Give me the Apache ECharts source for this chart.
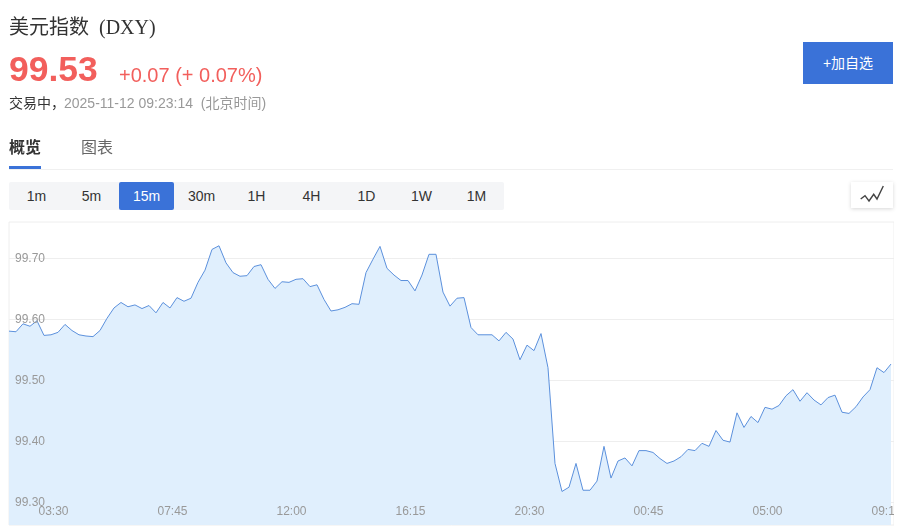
<!DOCTYPE html>
<html>
<head>
<meta charset="utf-8">
<title>美元指数 (DXY)</title>
<script src="https://cdn.jsdelivr.net/npm/echarts@6/dist/echarts.min.js"></script>
<style>
  html, body { margin: 0; padding: 0; background: #fff; overflow: hidden; }
  body { width: 898px; height: 529px; position: relative; font-family: "Liberation Sans", "Noto Sans CJK SC", sans-serif; }
  .abs { position: absolute; white-space: pre; }
  #title { left: 9px; top: 13px; font-size: 20px; line-height: 28px; color: #333; font-family: "Liberation Serif", "Noto Sans CJK SC", serif; }
  #title span { margin-left: 10px; font-size: 20px; }
  #price { left: 9px; top: 48px; font-size: 35.5px; line-height: 42px; font-weight: bold; color: #f25f5c; }
  #change { left: 119px; top: 62px; font-size: 20px; line-height: 26px; color: #f25f5c; }
  #status { left: 9px; top: 94px; font-size: 14px; line-height: 18px; color: #333; }
  #status span { color: #999; margin-left: -1px; }
  #tab1 { left: 9px; top: 137px; font-size: 16px; line-height: 22px; font-weight: bold; color: #333; }
  #tab2 { left: 81px; top: 137px; font-size: 16px; line-height: 22px; color: #666; }
  #tabbar { left: 9px; top: 166px; width: 32px; height: 3px; background: #3a72d8; }
  #tabline { left: 9px; top: 169px; width: 884px; height: 1px; background: #f0f0f0; }
  #add { left: 803px; top: 42px; width: 90px; height: 42px; line-height: 42px; text-align: center; background: #3a72d8; color: #fff; font-size: 14px; }
  #periods { left: 9px; top: 182px; height: 28px; background: #f4f5f7; display: flex; border-radius: 2px; }
  #periods div { width: 55px; height: 28px; line-height: 29px; text-align: center; font-size: 14px; color: #333; border-radius: 2px; }
  #periods div.on { background: #3a72d8; color: #fff; }
  #icon { left: 851px; top: 182px; width: 42px; height: 26px; background: #fff; box-shadow: 0 1px 4px rgba(0,0,0,.16); }
  #icon svg { display: block; }
  #chart { position: absolute; left: 0; top: 0; width: 894px; height: 529px; }
</style>
</head>
<body>
<div id="chart"></div>
<div class="abs" id="title">美元指数<span>(DXY)</span></div>
<div class="abs" id="price">99.53</div>
<div class="abs" id="change">+0.07 (+ 0.07%)</div>
<div class="abs" id="status">交易中，<span>2025-11-12 09:23:14  (北京时间)</span></div>
<div class="abs" id="tab1">概览</div>
<div class="abs" id="tab2">图表</div>
<div class="abs" id="tabbar"></div>
<div class="abs" id="tabline"></div>
<div class="abs" id="add">+加自选</div>
<div class="abs" id="periods"></div>
<div class="abs" id="icon"><svg width="42" height="26"><polyline points="9.7,17 14,13.7 18,19 22.7,12.3 26,17 32.3,4" fill="none" stroke="#444" stroke-width="1.4"/></svg></div>
<script>
var periods = ['1m', '5m', '15m', '30m', '1H', '4H', '1D', '1W', '1M'];
var activePeriod = '15m';
var yTicks = [99.3, 99.4, 99.5, 99.6, 99.7];
var timeLabels = ['03:30', '07:45', '12:00', '16:15', '20:30', '00:45', '05:00', '09:15'];
var timeIndex = [6, 23, 40, 57, 74, 91, 108, 125];
var prices = [
  99.581, 99.580, 99.593, 99.589, 99.598, 99.574, 99.575, 99.579, 99.592, 99.582,
  99.575, 99.573, 99.572, 99.582, 99.602, 99.619, 99.628, 99.621, 99.624, 99.618,
  99.623, 99.611, 99.628, 99.619, 99.636, 99.630, 99.635, 99.661, 99.681, 99.715,
  99.721, 99.693, 99.677, 99.671, 99.672, 99.687, 99.690, 99.666, 99.651, 99.662,
  99.661, 99.666, 99.667, 99.654, 99.657, 99.633, 99.614, 99.616, 99.620, 99.626,
  99.625, 99.677, 99.699, 99.720, 99.684, 99.673, 99.664, 99.664, 99.647, 99.673,
  99.707, 99.707, 99.645, 99.622, 99.635, 99.636, 99.587, 99.575, 99.575, 99.575,
  99.565, 99.579, 99.568, 99.534, 99.558, 99.549, 99.577, 99.521, 99.364, 99.318,
  99.325, 99.364, 99.320, 99.320, 99.335, 99.392, 99.340, 99.368, 99.373, 99.360,
  99.385, 99.385, 99.382, 99.372, 99.364, 99.368, 99.375, 99.387, 99.385, 99.397,
  99.392, 99.418, 99.402, 99.399, 99.447, 99.423, 99.441, 99.431, 99.456, 99.453,
  99.459, 99.475, 99.485, 99.466, 99.480, 99.468, 99.460, 99.472, 99.476, 99.448,
  99.446, 99.457, 99.473, 99.485, 99.521, 99.513, 99.527
];

var bar = document.getElementById('periods');
periods.forEach(function (p) {
  var d = document.createElement('div');
  d.textContent = p;
  if (p === activePeriod) d.className = 'on';
  bar.appendChild(d);
});

var yMin = 99.263, yMax = 99.76;
var chart = echarts.init(document.getElementById('chart'), null, { renderer: 'canvas' });
chart.setOption({
  animation: false,
  grid: { left: 9, right: 0, top: 222, bottom: 4, outerBoundsMode: 'none', show: true, borderColor: '#eeeeee', borderWidth: 1, backgroundColor: 'transparent' },
  xAxis: {
    type: 'value',
    min: 0,
    max: 126.43,
    z: 5,
    axisLine: { show: false },
    axisTick: { show: false, customValues: timeIndex },
    splitLine: { show: false },
    axisLabel: {
      inside: true,
      customValues: timeIndex,
      hideOverlap: false,
      margin: 7,
      padding: [0, 0, 0, 5],
      color: '#999999',
      fontSize: 12,
      fontFamily: 'Liberation Sans',
      formatter: function (v) { return timeLabels[timeIndex.indexOf(v)]; }
    }
  },
  yAxis: [{
    type: 'value',
    min: yMin,
    max: yMax,
    axisLine: { show: false },
    axisTick: { show: false, customValues: yTicks },
    axisLabel: { show: false, customValues: yTicks },
    splitLine: { show: true, lineStyle: { color: '#eeeeee', width: 1 } }
  }, {
    type: 'value',
    position: 'left',
    min: yMin,
    max: yMax,
    z: 5,
    axisLine: { show: false },
    axisTick: { show: false, customValues: yTicks },
    splitLine: { show: false },
    axisLabel: {
      inside: true,
      customValues: yTicks,
      margin: 6,
      color: '#999999',
      fontSize: 12,
      fontFamily: 'Liberation Sans',
      formatter: function (v) { return v.toFixed(2); }
    }
  }],
  series: [{
    type: 'line',
    data: prices.map(function (v, i) { return [i, v]; }),
    showSymbol: false,
    symbol: 'none',
    clip: true,
    lineStyle: { color: '#5b90dc', width: 1 },
    areaStyle: { color: '#e0effd', opacity: 1 }
  }]
});
</script>
</body>
</html>
